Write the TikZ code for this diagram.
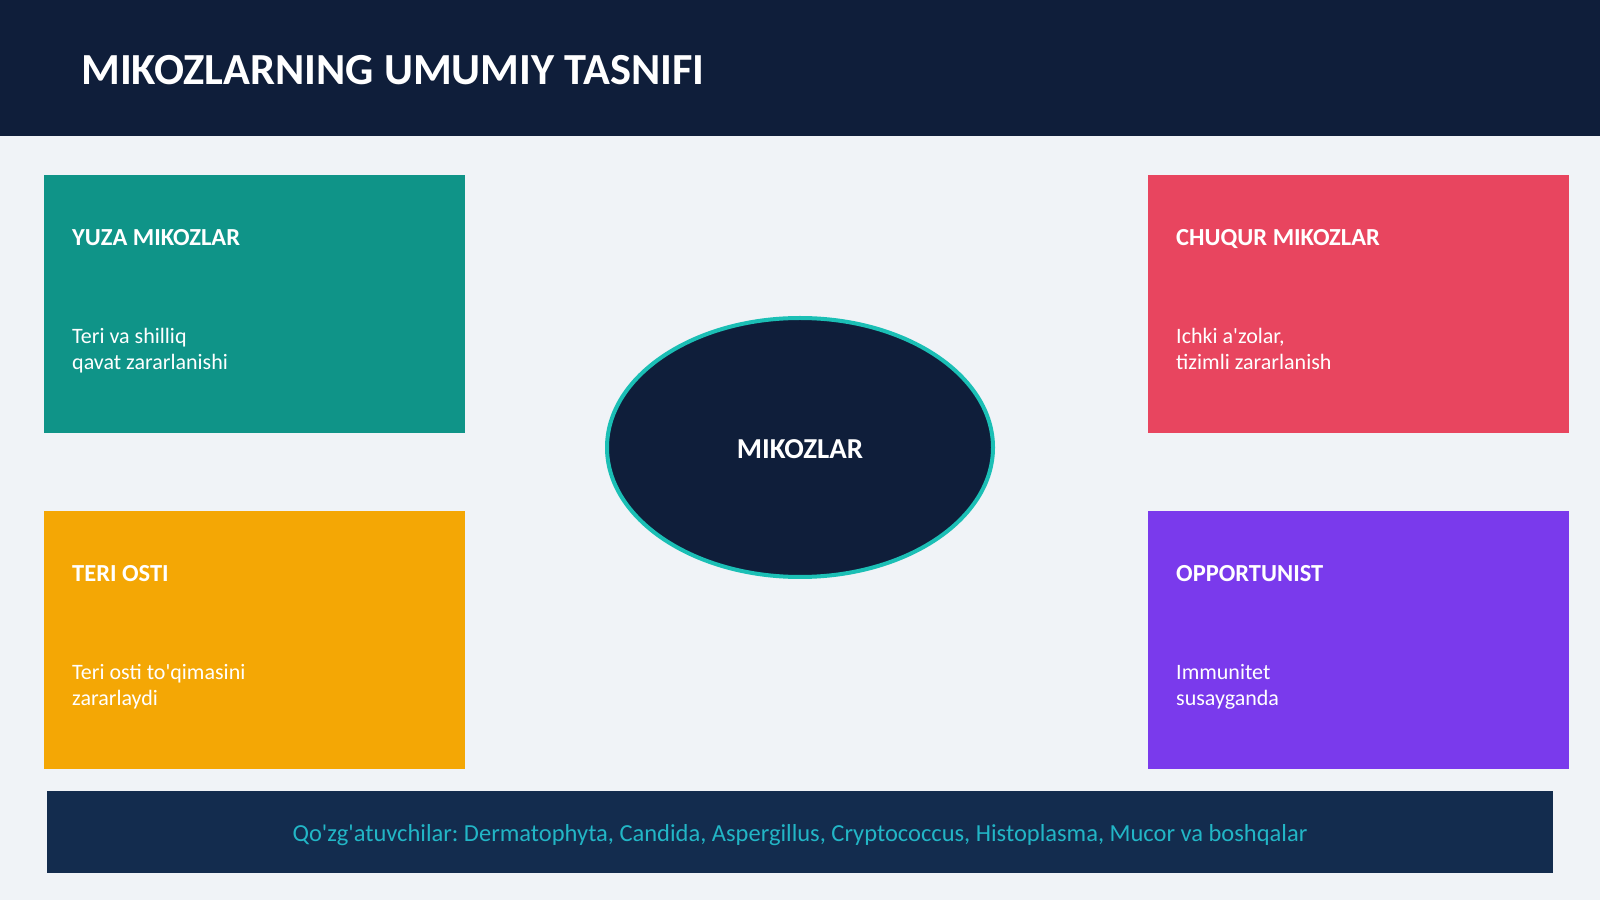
\documentclass[tikz,border=0pt]{standalone}
\usepackage{fontspec}
\setmainfont{Carlito}
\usetikzlibrary{calc}
\usetikzlibrary{positioning}
\usetikzlibrary{shapes.geometric}

\definecolor{pagebg}{HTML}{F0F3F7}
\definecolor{navy}{HTML}{0F1E3A}
\definecolor{banner}{HTML}{132C4E}
\definecolor{ring}{HTML}{1BBFB5}
\definecolor{cardteal}{HTML}{0F9488}
\definecolor{cardred}{HTML}{E8455F}
\definecolor{cardamber}{HTML}{F4A705}
\definecolor{cardviolet}{HTML}{7A3AEC}
\definecolor{agenttext}{HTML}{22B6C6}

\begin{document}
\frenchspacing
\begin{tikzpicture}[x=1pt,y=1pt,
  card/.style={anchor=north west, minimum width=421pt, minimum height=258pt, inner sep=0pt},
  cardhead/.style={anchor=base west, inner sep=0pt, text=white,
    font=\bfseries\fontsize{24.5}{28}\selectfont},
  cardtext/.style={anchor=base west, inner sep=0pt, text=white, align=left,
    font=\fontsize{22}{26}\selectfont},
  ]
  \useasboundingbox (0,0) rectangle (1600,900);
  \fill[pagebg] (0,0) rectangle (1600,900);

  % header
  \node[fill=navy, anchor=north west, inner sep=0pt,
    minimum width=1600pt, minimum height=136pt] (head) at (0,900) {};
  \node[anchor=base west, inner sep=0pt, text=white,
    font=\bfseries\fontsize{44.4}{50}\selectfont] (title) at (81,815)
    {MIKOZLARNING UMUMIY TASNIFI};

  % centre
  \node[ellipse, fill=navy, draw=ring, line width=4pt, inner sep=0pt,
    minimum width=386pt, minimum height=259pt] (mikoz) at (800,452.5) {};
  \node[text=white, inner sep=0pt, font=\bfseries\fontsize{28.9}{32}\selectfont]
    (mikozlabel) at ([yshift=-2pt]mikoz.center) {MIKOZLAR};

  % yuza
  \node[card, fill=cardteal] (yuza) at (44,725.5) {};
  \node[cardhead] (yuzahead) at ($(yuza.north west)+(28,-71)$) {YUZA MIKOZLAR};
  \node[cardtext] (yuzatext) at ($(yuza.north west)+(28,-195)$)
    {Teri va shilliq\\qavat zararlanishi};

  % chuqur
  \node[card, fill=cardred] (chuqur) at (1148,725.5) {};
  \node[cardhead] (chuqurhead) at ($(chuqur.north west)+(28,-71)$) {CHUQUR MIKOZLAR};
  \node[cardtext] (chuqurtext) at ($(chuqur.north west)+(28,-195)$)
    {Ichki a\textquotesingle zolar,\\tizimli zararlanish};

  % teri osti
  \node[card, fill=cardamber] (osti) at (44,389.3) {};
  \node[cardhead] (ostihead) at ($(osti.north west)+(28,-71)$) {TERI OSTI};
  \node[cardtext] (ostitext) at ($(osti.north west)+(28,-195)$)
    {Teri osti to\textquotesingle qimasini\\zararlaydi};

  % opportunist
  \node[card, fill=cardviolet] (opport) at (1148,389.3) {};
  \node[cardhead] (opporthead) at ($(opport.north west)+(28,-71)$) {OPPORTUNIST};
  \node[cardtext] (opporttext) at ($(opport.north west)+(28,-195)$)
    {Immunitet\\susayganda};

  % qo'zg'atuvchilar
  \node[fill=banner, inner sep=0pt, minimum width=1506pt, minimum height=82pt]
    (agents) at (800,68) {};
  \node[inner sep=0pt, text=agenttext, font=\fontsize{24.5}{28}\selectfont]
    (agentslabel) at ([yshift=-3pt]agents.center)
    {Qo\textquotesingle zg\textquotesingle atuvchilar: Dermatophyta, Candida, Aspergillus, Cryptococcus, Histoplasma, Mucor va boshqalar};
\end{tikzpicture}
\end{document}
